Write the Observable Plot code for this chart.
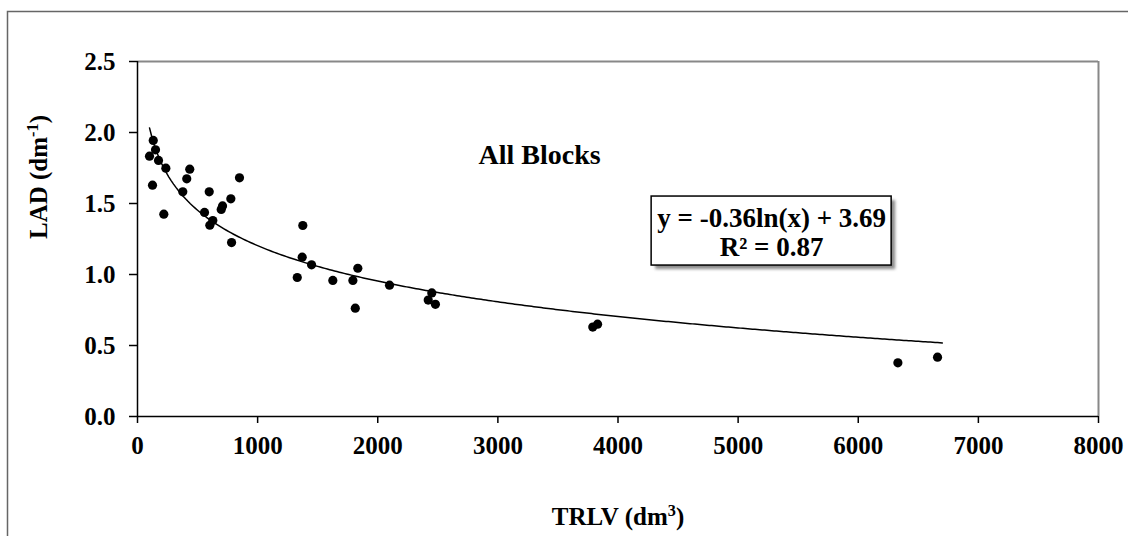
<!DOCTYPE html>
<html><head><meta charset="utf-8">
<script src="https://cdn.jsdelivr.net/npm/d3@7"></script>
<script src="https://cdn.jsdelivr.net/npm/@observablehq/plot@0.6"></script>
<style>
html,body{margin:0;background:#fff;overflow:hidden;width:1128px;height:536px;}
#chart svg{display:block;}
</style></head><body>
<div id="chart"></div>
<script>
// Data
const trlv = [100, 125, 131, 150, 175, 219, 236, 377, 410, 435, 558, 597, 602, 627, 697, 708, 777, 783, 849,
              1330, 1371, 1376, 1449, 1626, 1793, 1813, 1834, 2098, 2420, 2450, 2480, 3790, 3830, 6330, 6660];
const lad  = [1.833, 1.629, 1.944, 1.878, 1.803, 1.425, 1.749, 1.582, 1.674, 1.742, 1.437, 1.582, 1.347, 1.380, 1.458, 1.483, 1.533, 1.225, 1.681,
              0.979, 1.122, 1.345, 1.068, 0.958, 0.958, 0.763, 1.044, 0.925, 0.82, 0.87, 0.79, 0.63, 0.65, 0.378, 0.418];
const xTicks = [0, 1000, 2000, 3000, 4000, 5000, 6000, 7000, 8000];
const yTicks = [0, 0.5, 1.0, 1.5, 2.0, 2.5];
const coefA = -0.36, coefB = 3.69, rSquared = 0.87;
const trendRange = [100, 6700];
const chartTitle = "All Blocks";
const xTitle = ["TRLV (dm", "3", ")"];
const yTitle = ["LAD (dm", "-1", ")"];

const points = trlv.map((x, i) => ({x, y: lad[i]}));
const trend = d3.range(trendRange[0], trendRange[1] + 1, 20).map(x => ({x, y: coefA * Math.log(x) + coefB}));
const eq1 = `y = ${coefA.toFixed(2)}ln(x) + ${coefB.toFixed(2)}`;
const eq2 = `R² = ${rSquared.toFixed(2)}`;
const boxRow = [{x1: 4280, x2: 6278, y1: 1.063, y2: 1.549}];

const font = "'Liberation Serif', 'Times New Roman', serif";

const chart = Plot.plot({
  width: 1128,
  height: 536,
  marginLeft: 137,
  marginRight: 30,
  marginTop: 61,
  marginBottom: 120,
  style: {fontFamily: font, fontSize: "25px", fontWeight: "bold", background: "white", color: "black"},
  x: {domain: [0, 8000]},
  y: {domain: [0, 2.5]},
  marks: [
    Plot.ruleY([2.5], {stroke: "#888", strokeWidth: 2}),
    Plot.ruleX([8000], {stroke: "#888", strokeWidth: 2}),
    Plot.axisY(yTicks, {tickSize: 8, tickPadding: 14, tickFormat: d => d.toFixed(1), label: null, strokeWidth: 1.5, fontSize: 25}),
    Plot.axisX(xTicks, {tickSize: 7, tickPadding: 13, tickFormat: d => String(d), label: null, strokeWidth: 1.5, fontSize: 25}),
    Plot.ruleY([0], {stroke: "black", strokeWidth: 1.5}),
    Plot.ruleX([0], {stroke: "black", strokeWidth: 1.5}),
    Plot.line(trend, {x: "x", y: "y", stroke: "black", strokeWidth: 1.5}),
    Plot.dot(points, {x: "x", y: "y", r: 4.6, fill: "black", stroke: "none"}),
    Plot.text([chartTitle], {x: 3347, y: 1.838, fontSize: 28, fontWeight: "bold"}),
    Plot.rect(boxRow, {x1: "x1", x2: "x2", y1: "y1", y2: "y2", fill: "#666", dx: 4, dy: 4, fillOpacity: 0.75, imageFilter: "blur(1.5px)"}),
    Plot.rect(boxRow, {x1: "x1", x2: "x2", y1: "y1", y2: "y2", fill: "white", stroke: "black", strokeWidth: 1.5}),
    Plot.text([eq1], {x: 5279, y: 1.394, fontSize: 27, fontWeight: "bold"}),
    Plot.text([eq2], {x: 5279, y: 1.19, fontSize: 27, fontWeight: "bold"}),
    Plot.text([xTitle.join("")], {frameAnchor: "bottom", dy: 108, fontSize: 25, fontWeight: "bold"}),
    Plot.text([yTitle.join("")], {frameAnchor: "left", dx: -99, rotate: -90, fontSize: 25, fontWeight: "bold"})
  ]
});

// turn the unit exponents into real superscripts
function superscript(parts) {
  d3.select(chart).selectAll("text").filter(function() { return this.textContent === parts.join(""); })
    .each(function() {
      const t = d3.select(this);
      t.text(null);
      t.append("tspan").text(parts[0]);
      t.append("tspan").attr("font-size", "65%").attr("dy", "-0.55em").text(parts[1]);
      t.append("tspan").attr("dy", "0.36em").text(parts[2]);
    });
}
superscript(xTitle);
superscript(yTitle);

// outer chart-area border (left and top edges visible in the reference)
d3.select(chart).append("path")
  .attr("d", "M7.5,540 L7.5,11.5 L1135,11.5")
  .attr("fill", "none").attr("stroke", "#666").attr("stroke-width", 1.5);

document.getElementById("chart").appendChild(chart);
</script>
</body></html>
